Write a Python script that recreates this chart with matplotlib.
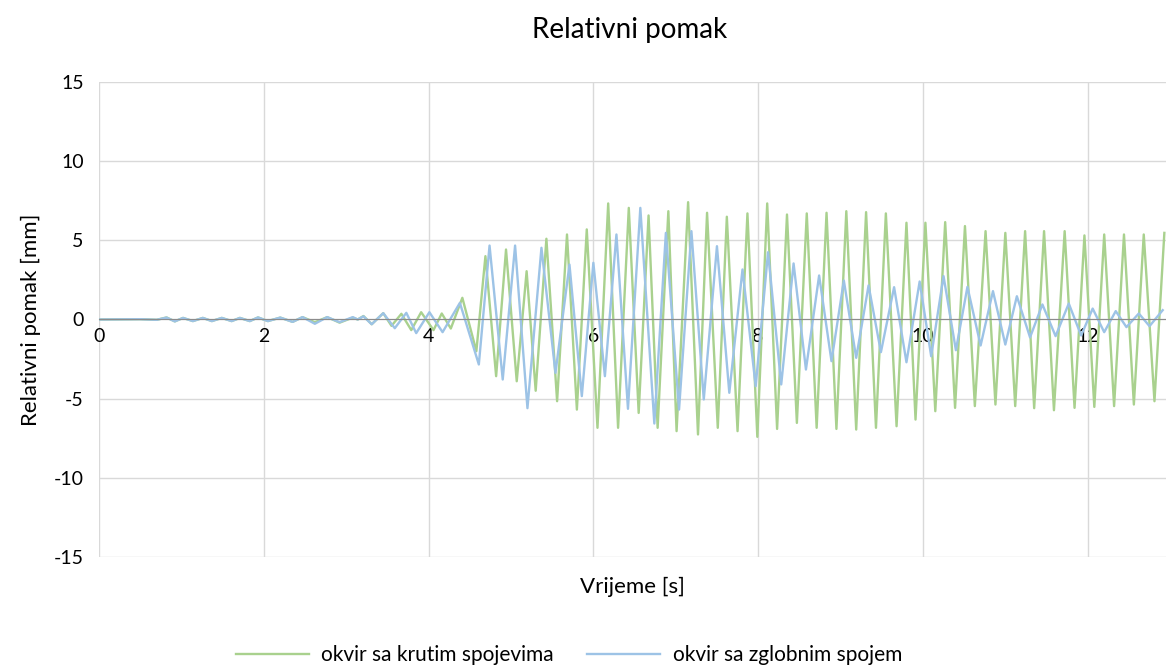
import matplotlib.pyplot as plt

plt.rcParams['font.family'] = ['Lato', 'DejaVu Sans']
plt.rcParams['axes.unicode_minus'] = False

# Ekstremi (vrijeme [s], pomak [mm]) očitani s grafa
t_kruti = [0, 0.5, 0.7, 0.82, 0.92, 1.02, 1.14, 1.26, 1.37, 1.49, 1.61, 1.71, 1.83,
           1.93, 2.05, 2.2, 2.35, 2.47, 2.62, 2.77, 2.92, 3.08, 3.14, 3.21, 3.31,
           3.45, 3.55, 3.67, 3.79, 3.91, 4.06, 4.16, 4.27, 4.41, 4.58, 4.69, 4.82,
           4.94, 5.07, 5.19, 5.30, 5.43, 5.56, 5.68, 5.80, 5.92, 6.05, 6.18, 6.30,
           6.43, 6.55, 6.67, 6.78, 6.91, 7.01, 7.15, 7.27, 7.38, 7.51, 7.62, 7.75,
           7.87, 7.99, 8.11, 8.23, 8.35, 8.47, 8.59, 8.71, 8.83, 8.95, 9.07, 9.19,
           9.31, 9.43, 9.55, 9.68, 9.80, 9.91, 10.03, 10.15, 10.27, 10.39, 10.51,
           10.63, 10.76, 10.88, 11.00, 11.12, 11.24, 11.35, 11.47, 11.59, 11.72,
           11.84, 11.96, 12.08, 12.20, 12.32, 12.44, 12.56, 12.68, 12.81, 12.93]
u_kruti = [0, 0.02, -0.02, 0.13, -0.12, 0.1, -0.1, 0.1, -0.1, 0.1, -0.1, 0.1, -0.1,
           0.13, -0.1, 0.12, -0.15, 0.15, -0.17, 0.15, -0.2, 0.12, 0.0, 0.22, -0.3,
           0.4, -0.4, 0.36, -0.67, 0.46, -0.67, 0.38, -0.57, 1.37, -2.0, 4.0, -3.58,
           4.42, -3.9, 3.05, -4.5, 5.1, -5.16, 5.37, -5.69, 5.69, -6.84, 7.33, -6.84,
           7.05, -5.9, 6.57, -6.84, 6.84, -7.05, 7.41, -7.26, 6.74, -6.84, 6.49, -7.05,
           6.70, -7.41, 7.33, -6.91, 6.63, -6.53, 6.70, -6.84, 6.74, -6.91, 6.84, -6.95,
           6.78, -6.84, 6.70, -6.74, 6.11, -6.32, 6.11, -5.79, 6.15, -5.58, 5.90,
           -5.47, 5.58, -5.37, 5.47, -5.47, 5.58, -5.6, 5.58, -5.73, 5.58,
           -5.58, 5.31, -5.52, 5.37, -5.47, 5.37, -5.37, 5.37, -5.16, 5.47]

t_zglob = [0, 0.5, 0.7, 0.82, 0.92, 1.02, 1.14, 1.26, 1.37, 1.49, 1.61, 1.71, 1.83,
           1.93, 2.05, 2.2, 2.35, 2.47, 2.62, 2.77, 2.92, 3.08, 3.14, 3.21, 3.31,
           3.45, 3.59, 3.73, 3.85, 4.01, 4.17, 4.38, 4.61, 4.74, 4.90, 5.05, 5.20,
           5.37, 5.54, 5.71, 5.86, 6.00, 6.14, 6.28, 6.42, 6.57, 6.74, 6.88, 7.04,
           7.19, 7.34, 7.50, 7.65, 7.81, 7.97, 8.12, 8.28, 8.43, 8.58, 8.74, 8.89,
           9.04, 9.19, 9.34, 9.49, 9.65, 9.80, 9.96, 10.10, 10.25, 10.40, 10.54,
           10.70, 10.85, 11.00, 11.14, 11.30, 11.45, 11.61, 11.77, 11.92, 12.06,
           12.20, 12.34, 12.47, 12.62, 12.75, 12.91]
u_zglob = [0, 0.02, -0.02, 0.12, -0.12, 0.1, -0.1, 0.1, -0.1, 0.1, -0.1, 0.1, -0.1,
           0.13, -0.1, 0.12, -0.15, 0.15, -0.27, 0.15, -0.17, 0.15, 0.0, 0.2, -0.3,
           0.4, -0.55, 0.42, -0.86, 0.46, -0.8, 1.05, -2.84, 4.67, -3.79, 4.67, -5.6,
           4.53, -3.37, 3.47, -4.84, 3.58, -3.58, 5.37, -5.64, 7.05, -6.57, 5.47, -5.69,
           5.58, -5.05, 4.63, -4.63, 3.16, -4.21, 4.25, -4.1, 3.54, -3.16, 2.78, -2.63,
           2.46, -2.42, 2.15, -2.06, 2.04, -2.7, 2.4, -2.32, 2.74, -1.94, 2.06,
           -1.64, 1.79, -1.58, 1.47, -1.13, 0.95, -1.05, 1.01, -1.01, 0.69,
           -0.8, 0.53, -0.48, 0.38, -0.42, 0.59]

x_ticks = [0, 2, 4, 6, 8, 10, 12]
y_ticks = [-15, -10, -5, 0, 5, 10, 15]

fig = plt.figure(figsize=(11.66, 6.65), dpi=100)
ax = fig.add_axes([0.0849, 0.1624, 0.9151, 0.7143])

ax.plot(t_kruti, u_kruti, color='#a9d18e', lw=1.7, label='okvir sa krutim spojevima')
ax.plot(t_zglob, u_zglob, color='#9dc3e6', lw=1.7, label='okvir sa zglobnim spojem')

ax.set_xlim(0, 12.95)
ax.set_ylim(-15, 15)
ax.set_xticks(x_ticks)
ax.set_yticks(y_ticks)
ax.grid(True, color='#d9d9d9', lw=1)
ax.set_axisbelow(True)

for s in ['top', 'right', 'left']:
    ax.spines[s].set_visible(False)
ax.spines['bottom'].set_position(('data', 0))
ax.spines['bottom'].set_color('#8c8c8c')
ax.tick_params(length=0, labelsize=14)
ax.tick_params(axis='x', pad=6)
ax.tick_params(axis='y', pad=11)

ax.set_ylabel('Relativni pomak [mm]', fontsize=16, labelpad=9)
fig.text(0.542, 0.118, 'Vrijeme [s]', fontsize=16, ha='center', va='center')
fig.text(0.54, 0.955, 'Relativni pomak', fontsize=20, ha='center', va='center')

fig.legend(loc='lower center', bbox_to_anchor=(0.488, -0.028), ncol=2, frameon=False,
           fontsize=15, handlelength=3.5, handletextpad=0.6, columnspacing=1.6)

plt.savefig('out.png', dpi=100)
